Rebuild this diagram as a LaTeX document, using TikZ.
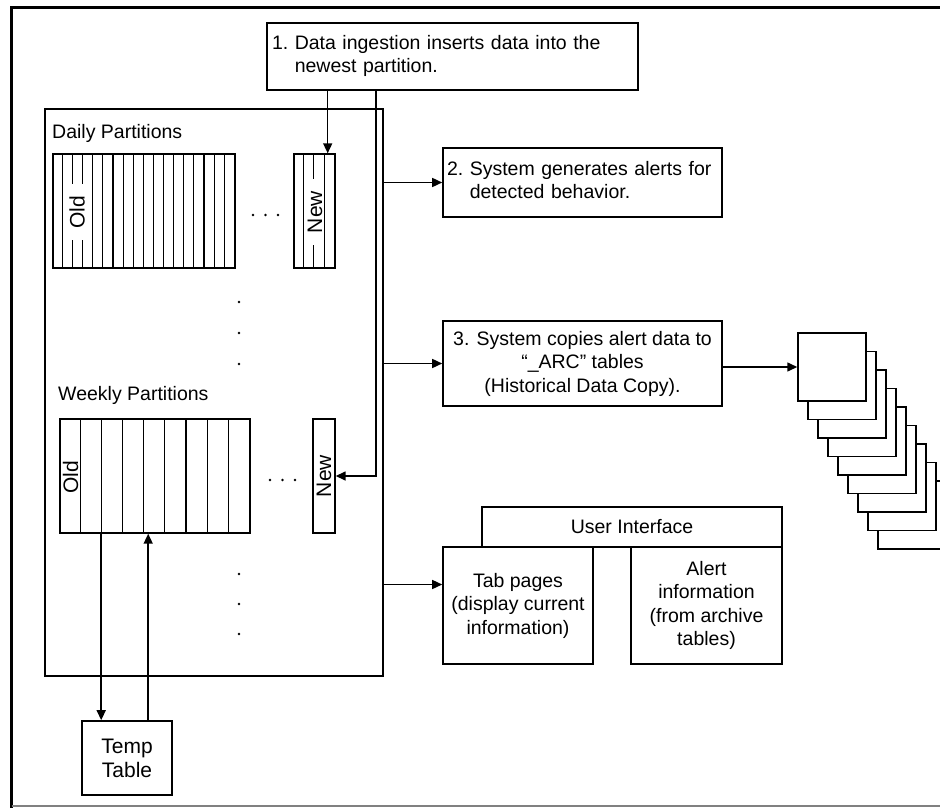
\documentclass[tikz,border=0pt]{standalone}
\usepackage{fontspec}
\setmainfont{Liberation Sans}
\usetikzlibrary{positioning,calc,arrows.meta}

\tikzset{
	box/.style={draw, line width=1.6pt, inner sep=0pt, font=\fontsize{19.5}{23.5}\selectfont},
	part/.style={draw, line width=1.4pt, inner sep=0pt, minimum height=114pt},
	strip/.style={line width=1.1pt},
	tag/.style={rotate=90, fill=white, inner xsep=12pt, inner ysep=0pt, font=\fontsize{21}{25}\selectfont},
	lbl/.style={inner sep=0pt, font=\fontsize{19.5}{23.5}\selectfont},
	arr/.style={line width=1.5pt, -{Triangle[length=10pt,width=9pt]}},
	page/.style={draw, fill=white, line width=1.5pt, minimum size=68pt, inner sep=0pt},
}

\begin{document}
\begin{tikzpicture}[x=1pt, y=-1pt]
	\useasboundingbox (0,0) rectangle (940,808);
	% Frame
	\draw [line width=3pt] (11.5,808) -- (11.5,7.5) -- (940,7.5);
	\draw [gray, line width=1.5pt] (11.5,806) -- (940,806);

	% Partition store
	\node [box, minimum width=338pt, minimum height=567pt] (cont) at (214,392.5) {};
	\node [lbl, anchor=base west] (dlabel) at (52,138) {Daily Partitions};
	\node [lbl, anchor=base west] (wlabel) at (58,400) {Weekly Partitions};

	% Daily
	\node [part, minimum width=182pt] (dold) at (144,211) {};
	\node [part, minimum width=41pt] (dnew) at (314.5,211) {};
	\foreach \i in {1,...,17}
		\draw [strip] ($(dold.north west)+(\i*10.11,0)$) -- ($(dold.south west)+(\i*10.11,0)$);
	\foreach \i in {1,...,3}
		\draw [strip] ($(dnew.north west)+(\i*10.25,0)$) -- ($(dnew.south west)+(\i*10.25,0)$);
	\node [tag] (doldtag) at (77,212) {Old};
	\node [tag] (dnewtag) at (315,212) {New};

	% Weekly
	\node [part, minimum width=190pt] (wold) at (155,476) {};
	\node [part, minimum width=22pt] (wnew) at (324,476) {};
	\foreach \i in {1,...,8}
		\draw [strip] ($(wold.north west)+(\i*21.11,0)$) -- ($(wold.south west)+(\i*21.11,0)$);
	\node [tag] (woldtag) at (70.5,477) {Old};
	\node [tag] (wnewtag) at (324,476) {New};

	% Dots
	\foreach \y in {302,333,364,574,604,634}
		\fill (239,\y) circle (1.4pt);
	\foreach \x in {253,265.5,278}
		\fill (\x,215) circle (1.4pt);
	\foreach \x in {270,282.5,295}
		\fill (\x,480) circle (1.4pt);

	% Steps
	\node [box, text width=361pt, inner xsep=5pt, align=left, minimum height=67pt] (box1) at (452.5,56.5)
		{\begin{tabular}{@{}l@{\ }l@{}}1.&Data ingestion inserts data into the\\&newest partition.\end{tabular}};
	\node [box, text width=271pt, inner xsep=4pt, align=left, minimum height=69pt] (box2) at (582.5,182.5)
		{\begin{tabular}{@{}l@{\ }l@{}}2.&System generates alerts for\\&detected behavior.\end{tabular}};
	\node [box, minimum width=279pt, minimum height=85pt, align=center] (box3) at (582.5,363.5)
		{3. System copies alert data to\\“\_ARC” tables\\(Historical Data Copy).};

	% Archive tables
	\foreach \i in {8,7,...,0}
		\node [page] (arc\i) at (832+10*\i, 367+18.5*\i) {};

	% User interface
	\node [box, minimum width=300pt, minimum height=40pt] (ui) at (632,527) {User Interface};
	\node [box, minimum width=150pt, minimum height=117pt, align=center] (tab) at (518,605.5)
		{Tab pages\\(display current\\information)};
	\node [box, minimum width=151pt, minimum height=117pt, align=center] (alert) at (706.5,605.5)
		{Alert\\information\\(from archive\\tables)};

	% Temp table
	\node [box, minimum width=90pt, minimum height=74pt, align=center, font=\fontsize{21}{24}\selectfont] (temp) at (127,758) {Temp\\Table};

	% Connectors
	\coordinate (din) at ($(dnew.north east)+(-8,0)$);
	\coordinate (feed) at ($(cont.north east)+(-8,0)$);
	\coordinate (tabin) at ($(tab.west)+(0,-21)$);
	\coordinate (tdown) at ($(temp.north west)+(20,0)$);
	\coordinate (tup) at ($(temp.north west)+(67,0)$);
	\draw [arr] (box1.south -| din) -- (din);
	\draw [arr] (box1.south -| feed) |- (wnew.east);
	\draw [arr] (cont.east |- box2.west) -- (box2.west);
	\draw [arr] (cont.east |- box3.west) -- (box3.west);
	\draw [arr] (cont.east |- tabin) -- (tabin);
	\draw [arr] (box3.east |- arc0.west) -- (arc0.west);
	\draw [arr] (wold.south -| tdown) -- (tdown);
	\draw [arr] (tup) -- (wold.south -| tup);
\end{tikzpicture}
\end{document}
